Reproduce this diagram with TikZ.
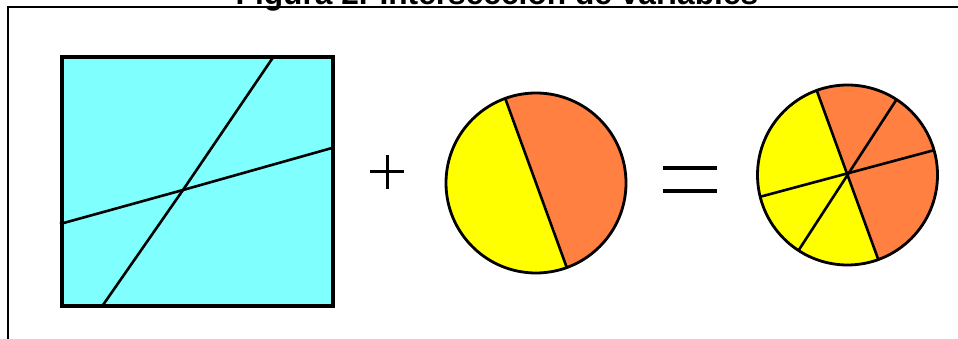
\documentclass[tikz,border=0pt]{standalone}
\usepackage{fontspec}
\setmainfont{Liberation Sans}
\usetikzlibrary{positioning}
\definecolor{cyanfill}{RGB}{128,255,255}
\definecolor{yellowfill}{RGB}{255,255,0}
\definecolor{orangefill}{RGB}{255,128,64}

\begin{document}
\begin{tikzpicture}[
  x=1pt, y=1pt,
  frame/.style = {draw=black, line width=2pt},
  cell/.style  = {draw=black, fill=cyanfill, line width=3.2pt},
  cut/.style   = {draw=black, line width=2.6pt},
  ring/.style  = {draw=black, line width=2.8pt},
  sign/.style  = {draw=black, line width=3pt},
  caption/.style = {font=\fontsize{31.7}{38}\selectfont\bfseries, inner sep=0pt},
]
  \useasboundingbox (0,0) rectangle (958,339);
  \clip (0,0) rectangle (958,339);
  \fill[white] (0,0) rectangle (958,339);

  % title, mostly cut off at the top
  \node[caption, anchor=base] (title) at (497,334) {Figura 2. Intersección de variables};
  \draw[frame] (7.5,-5) -- (7.5,331.5) -- (970,331.5);

  % square with the two lines
  \draw[cell] (62,33) rectangle (333,282);
  \coordinate (cross) at (183,149);
  \coordinate (steepA) at (103,34);
  \coordinate (steepB) at (274,283);
  \coordinate (flatA) at (60,115);
  \coordinate (flatB) at (332,191);
  \draw[cut] (steepA) -- (cross) -- (steepB);
  \draw[cut] (flatA) -- (cross) -- (flatB);

  % plus
  \coordinate (plus) at (387,167);
  \draw[sign] ([xshift=-17pt]plus) -- ([xshift=17pt]plus);
  \draw[sign] ([yshift=-17pt]plus) -- ([yshift=17pt]plus);

  % first pie
  \coordinate (pieA) at (536,156);
  \fill[orangefill] ([shift={(-70:90)}]pieA) arc[start angle=-70, end angle=110, radius=90] -- cycle;
  \fill[yellowfill] ([shift={(110:90)}]pieA) arc[start angle=110, end angle=290, radius=90] -- cycle;
  \draw[cut] ([shift={(110:90)}]pieA) -- ([shift={(290:90)}]pieA);
  \draw[ring] (pieA) circle[radius=90];

  % equals
  \coordinate (equal) at (690,159.5);
  \draw[sign, line width=3.5pt] ([shift={(-27,11.5)}]equal) -- ([shift={(27,11.5)}]equal);
  \draw[sign, line width=3.5pt] ([shift={(-27,-11.5)}]equal) -- ([shift={(27,-11.5)}]equal);

  % second pie
  \coordinate (pieB) at (847.5,164);
  \fill[orangefill] ([shift={(-70:90)}]pieB) arc[start angle=-70, end angle=110, radius=90] -- cycle;
  \fill[yellowfill] ([shift={(110:90)}]pieB) arc[start angle=110, end angle=290, radius=90] -- cycle;
  \draw[cut] ([shift={(110:90)}]pieB) -- ([shift={(290:90)}]pieB);
  \draw[cut] ([shift={(57:90)}]pieB) -- ([shift={(237:90)}]pieB);
  \draw[cut] ([shift={(16:90)}]pieB) -- ([shift={(194:90)}]pieB);
  \draw[ring] (pieB) circle[radius=90];
\end{tikzpicture}
\end{document}
